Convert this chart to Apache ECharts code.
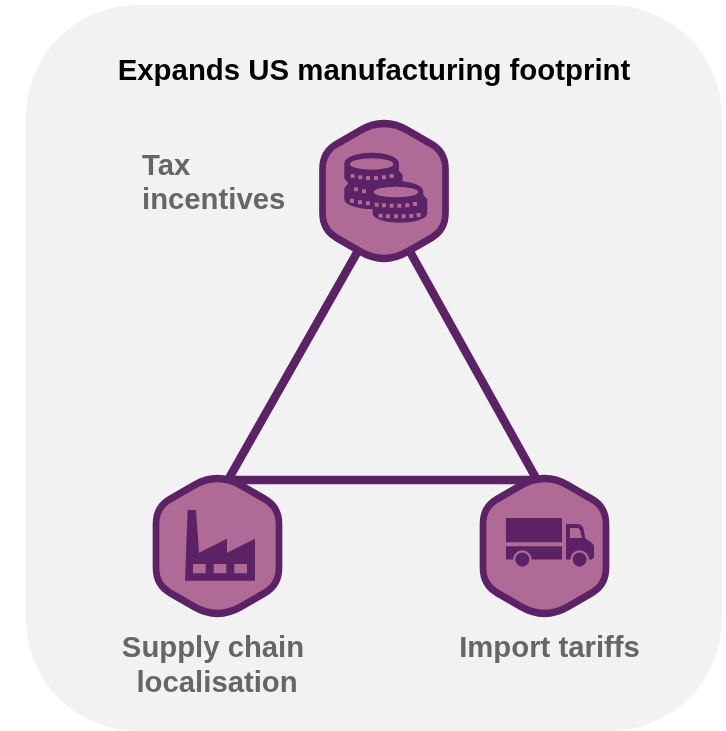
<!DOCTYPE html>
<html>
<head>
<meta charset="utf-8">
<title>Expands US manufacturing footprint</title>
<style>
  html, body { margin: 0; padding: 0; background: #fff; }
  #chart { width: 726px; height: 731px; }
</style>
<script src="https://cdn.jsdelivr.net/npm/echarts@6/dist/echarts.min.js"></script>
</head>
<body>
<div id="chart"></div>
<script>
// text
var chartTitle = 'Expands US manufacturing footprint';
var nodeNames = ['Tax incentives', 'Supply chain localisation', 'Import tariffs'];
var nodeLabels = ['Tax\nincentives', 'Supply chain\n localisation', 'Import tariffs'];

// the three hexagons are joined in this order, and back to the first
var triangleOrder = [0, 1, 2, 0];

// page layout, in picture pixels
var triangleCorners = [[384, 205], [228, 480], [537, 480]];
var hexCentres = [[384, 191], [217.5, 546], [544.5, 546]];
var iconCentres = [[385.8, 187.7], [220, 545.3], [550, 542.3]];
var iconSizes = [[83, 70], [70, 70.7], [88, 48.7]];
var labelAnchors = [[142, 184], [213, 666.5], [549.5, 649]];
var labelAligns = ['left', 'center', 'center'];

var PURPLE = '#5b2366';
var MAUVE = '#b06a96';
var GREY = '#666666';

// hexagon with rounded corners
var hexPath = 'path://M38 7Q62 -7 86 7L110 21Q124 29 124 46V90Q124 107 110 115L86 129Q62 143 38 129L14 115Q0 107 0 90V46Q0 29 14 21Z';

// holes run the other way round from the outline
function hole(x, y, w, h) {
  return 'M' + x + ' ' + y + 'V' + (y + h) + 'H' + (x + w) + 'V' + y + 'Z';
}
function ellipseHole(cx, cy, rx, ry) {
  return 'M' + (cx - rx) + ' ' + cy +
    'A' + rx + ' ' + ry + ' 0 1 0 ' + (cx + rx) + ' ' + cy +
    'A' + rx + ' ' + ry + ' 0 1 0 ' + (cx - rx) + ' ' + cy + 'Z';
}
function holes(list) {
  return list.map(function (t) { return hole(t[0], t[1], 12, 12); }).join('');
}

var coinTicks = [
  [152, 222], [175, 226], [198, 228], [222, 228], [246, 226], [269, 222],
  [162, 262], [186, 268],
  [150, 296], [174, 301], [198, 304],
  [224, 308], [246, 310], [269, 311], [292, 311], [316, 310], [339, 306],
  [236, 341], [258, 343], [282, 343], [305, 343], [328, 342], [350, 339]
];
var coinsPath = 'path://M133 190A82 32 0 0 1 297 190V212L308 225V245L300 243A80 32 0 0 1 370 275V285L382 298V340A82 28 0 0 1 218 340V327A82 30 0 0 1 133 297V265L145 250L133 235Z' +
  ellipseHole(215, 192, 65, 17) + ellipseHole(288, 276, 67, 16) + holes(coinTicks);

var factoryPath = 'path://M165 362L173 150H198L207 278L291 236V278L375 236V362Z' +
  hole(189, 312, 38, 28) + hole(251, 312, 38, 28) + hole(313, 312, 38, 28);

var truckPath = 'path://M138 174H306V246H138Z' +
  'M138 258H306V298H215A28 28 0 0 0 159 298H138Z' +
  'M318 192H350Q365 192 370 205L376 235L395 248Q402 252 402 260V292L395 298H387A28 28 0 0 0 331 298H318Z' +
  'M330 204V234H366L360 210Q358 204 352 204Z' +
  'M166 298A21 21 0 0 1 208 298A21 21 0 0 1 166 298Z' +
  'M338 298A21 21 0 0 1 380 298A21 21 0 0 1 338 298Z';

var iconPaths = [coinsPath, factoryPath, truckPath];

var chart = echarts.init(document.getElementById('chart'), null, { renderer: 'canvas' });

chart.setOption({
  animation: false,
  backgroundColor: '#fff',
  textStyle: { fontFamily: '"Liberation Sans", Arial, sans-serif' },
  title: {
    text: chartTitle,
    left: 369,
    top: 52,
    textAlign: 'center',
    textStyle: { color: '#000', fontSize: 29.4, fontWeight: 'bold', fontFamily: '"Liberation Sans", Arial, sans-serif' }
  },
  graphic: [{
    type: 'rect',
    z: -10,
    silent: true,
    shape: { x: 26, y: 5, width: 696, height: 726, r: 112 },
    style: { fill: '#f2f2f2' }
  }],
  grid: { left: 0, right: 0, top: 0, bottom: 0 },
  xAxis: { type: 'value', min: 0, max: 726, show: false },
  yAxis: { type: 'value', min: 0, max: 731, inverse: true, show: false },
  series: [{
    // triangle joining the hexagons
    type: 'line',
    z: 2,
    silent: true,
    symbol: 'none',
    clip: false,
    lineStyle: { color: PURPLE, width: 8.5, opacity: 1, join: 'miter' },
    data: triangleOrder.map(function (i) { return triangleCorners[i]; })
  }, {
    type: 'scatter',
    z: 3,
    silent: true,
    clip: false,
    symbol: hexPath,
    symbolSize: [123, 135],
    itemStyle: { color: MAUVE, opacity: 1, borderColor: PURPLE, borderWidth: 7 },
    data: nodeNames.map(function (name, i) {
      return { name: name, value: hexCentres[i] };
    })
  }, {
    type: 'scatter',
    z: 4,
    silent: true,
    clip: false,
    itemStyle: { color: PURPLE, opacity: 1 },
    data: nodeNames.map(function (name, i) {
      return { name: name, value: iconCentres[i], symbol: iconPaths[i], symbolSize: iconSizes[i] };
    })
  }, {
    // text beside the hexagons, hung on invisible points
    type: 'scatter',
    z: 5,
    silent: true,
    clip: false,
    symbolSize: 1,
    itemStyle: { color: 'transparent', opacity: 1 },
    data: nodeLabels.map(function (text, i) {
      return {
        name: nodeNames[i],
        value: labelAnchors[i],
        label: {
          show: true,
          position: 'inside',
          formatter: text,
          align: labelAligns[i],
          verticalAlign: 'middle',
          color: GREY,
          fontSize: 29.3,
          fontWeight: 'bold',
          lineHeight: 34.5,
          fontFamily: '"Liberation Sans", Arial, sans-serif'
        }
      };
    })
  }]
});
</script>
</body>
</html>
